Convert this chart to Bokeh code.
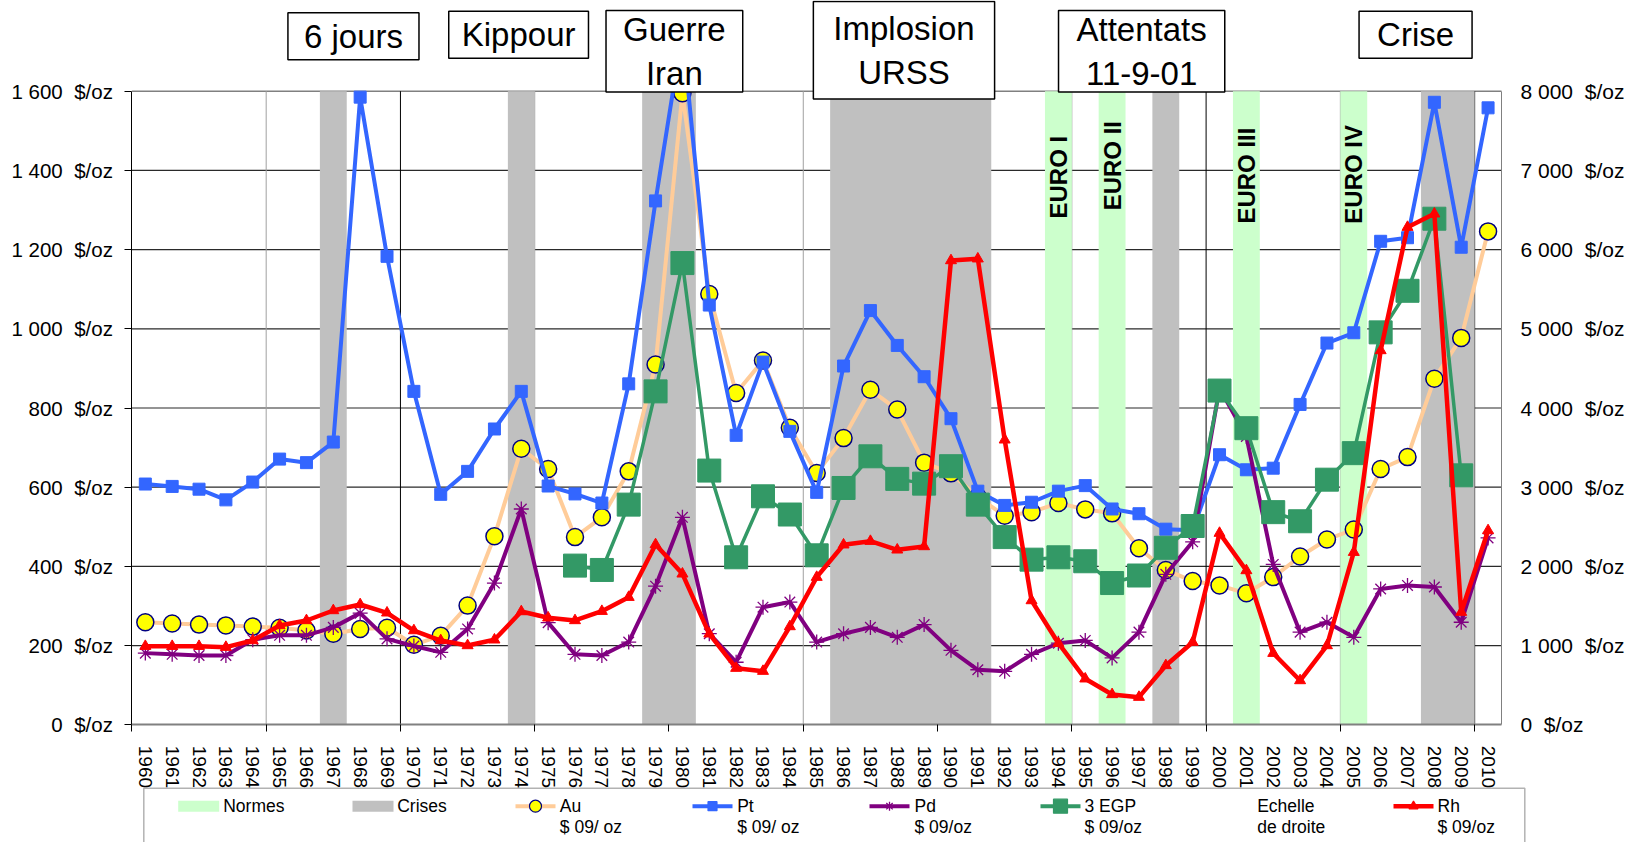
import math
from bokeh.plotting import figure
from bokeh.models import (Range1d, LinearAxis, FixedTicker, Label, BoxAnnotation,
                          ColumnDataSource)
from bokeh.embed import file_html
from bokeh.resources import INLINE

NaN = float("nan")

# ---------------- data ----------------
years = list(range(1960, 2011))

au = [259, 256, 253, 251, 248, 245, 238, 230, 242, 245,
      202, 225, 301, 476, 697, 646, 474, 524, 640, 910,
      1595, 1088, 838, 920, 750, 636, 724, 846, 796, 662,
      635, 575, 528, 537, 560, 544, 534, 446, 391, 363,
      352, 332, 373, 425, 468, 493, 646, 676, 874, 977, 1246]

pt = [608, 602, 595, 568, 613, 671, 662, 714, 1585, 1183,
      842, 582, 640, 747, 842, 603, 583, 560, 861, 1323,
      1750, 1060, 731, 916, 741, 587, 906, 1046, 958, 879,
      773, 590, 554, 562, 590, 604, 545, 533, 494, 491,
      682, 644, 648, 809, 964, 990, 1221, 1230, 1572, 1206, 1558]

pdm = [181, 178, 175, 175, 215, 226, 226, 246, 282, 217,
       199, 183, 242, 358, 545, 258, 178, 175, 209, 350,
       524, 230, 158, 297, 310, 209, 230, 246, 221, 253,
       188, 139, 135, 178, 206, 213, 169, 234, 380, 462,
       850, 728, 405, 234, 259, 221, 343, 352, 348, 259, 472]

egp = [NaN] * 16 + [402, 391, 556, 842,
       1166, 642, 423, 577, 531, 428, 598, 678, 621, 609,
       653, 556, 474, 417, 423, 413, 358, 377, 447, 502,
       844, 749, 537, 514, 619, 686, 991, 1096, 1278, 630, NaN]

rh = [992, 992, 992, 980, 1064, 1254, 1317, 1443, 1519, 1414,
      1190, 1064, 1001, 1073, 1430, 1351, 1317, 1434, 1611, 2276,
      1906, 1149, 715, 677, 1241, 1864, 2273, 2318, 2209, 2251,
      5862, 5884, 3598, 1569, 1030, 581, 383, 349, 749, 1043,
      2420, 1948, 904, 559, 1001, 2179, 4726, 6283, 6452, 1422, 2453]

left_ticks = [0, 200, 400, 600, 800, 1000, 1200, 1400, 1600]
left_labels = ["0\u00a0\u00a0$/oz", "200\u00a0\u00a0$/oz", "400\u00a0\u00a0$/oz", "600\u00a0\u00a0$/oz",
               "800\u00a0\u00a0$/oz", "1 000\u00a0\u00a0$/oz", "1 200\u00a0\u00a0$/oz",
               "1 400\u00a0\u00a0$/oz", "1 600\u00a0\u00a0$/oz"]
right_ticks = [0, 1000, 2000, 3000, 4000, 5000, 6000, 7000, 8000]
right_labels = ["0\u00a0\u00a0$/oz", "1 000\u00a0\u00a0$/oz", "2 000\u00a0\u00a0$/oz", "3 000\u00a0\u00a0$/oz",
                "4 000\u00a0\u00a0$/oz", "5 000\u00a0\u00a0$/oz", "6 000\u00a0\u00a0$/oz",
                "7 000\u00a0\u00a0$/oz", "8 000\u00a0\u00a0$/oz"]

crises_years = [1967, 1974, 1979, 1980, 1986, 1987, 1988, 1989, 1990, 1991, 1998, 2008, 2009]
normes_years = [1994, 1996, 2001, 2005]
normes_labels = ["EURO I", "EURO II", "EURO III", "EURO IV"]

event_labels = ["6 jours", "Kippour", "Guerre\nIran", "Implosion\nURSS", "Attentats\n11-9-01", "Crise"]

legend_names = ["Normes", "Crises", "Au", "Pt", "Pd", "3 EGP", "Echelle", "Rh"]
legend_units = ["", "", "$ 09/ oz", "$ 09/ oz", "$ 09/oz", "$ 09/oz", "de droite", "$ 09/oz"]

# ---------------- layout / style ----------------
FONT = "Liberation Sans"
W, H = 1636, 842                 # the frame covers the whole canvas
X_LO, X_HI = 1959.5, 2010.5      # category extent
X_LO_PX, X_HI_PX = 131.4, 1501.0
Y0_PX, YTOP_PX = 724.3, 90.7
Y_MAX, Y2_MAX = left_ticks[-1], right_ticks[-1]

kx = (X_HI_PX - X_LO_PX) / (X_HI - X_LO)
ky = (Y0_PX - YTOP_PX) / Y_MAX
x_range = Range1d(X_LO - X_LO_PX / kx, X_HI + (W - X_HI_PX) / kx)
y_range = Range1d(-(H - Y0_PX) / ky, Y_MAX + YTOP_PX / ky)
r2 = Y2_MAX / Y_MAX

p = figure(width=W, height=H, min_border=0, x_range=x_range, y_range=y_range,
           output_backend="svg", toolbar_location=None)
p.extra_y_ranges = {"right": Range1d(y_range.start * r2, y_range.end * r2),
                    "px": Range1d(H, 0)}
p.extra_x_ranges = {"px": Range1d(0, W)}
p.outline_line_color = None
p.background_fill_color = "white"
p.border_fill_color = "white"
p.grid.visible = False

# gridlines (drawn as segments so that they stop at the plot area)
hy = left_ticks[1:-1]
p.segment(x0=X_LO, x1=X_HI, y0=hy, y1=hy, line_color="#2a2a2a", line_width=1.2)
p.segment(x0=X_LO, x1=X_HI, y0=[Y_MAX], y1=[Y_MAX], line_color="#808080", line_width=1.5)
bounds_all = [X_LO + 5 * k for k in range(1, 11)]
dark_bounds = [b for b in bounds_all if b in (1969.5, 1999.5, 2009.5)]
light_bounds = [b for b in bounds_all if b not in dark_bounds]
p.segment(x0=light_bounds, x1=light_bounds, y0=0, y1=Y_MAX, line_color="#a0a0a0", line_width=1)
p.segment(x0=dark_bounds, x1=dark_bounds, y0=0, y1=Y_MAX, line_color="black", line_width=1)

# x axis
xa = p.xaxis[0]
xa.fixed_location = 0
xa.bounds = (X_LO, X_HI)
xa.ticker = FixedTicker(ticks=years, minor_ticks=[X_LO + 5 * k for k in range(11)])
xa.major_label_overrides = {y: str(y) for y in years}
xa.major_label_orientation = "vertical"
xa.major_tick_line_color = None
xa.major_tick_out = 0
xa.major_tick_in = 0
xa.minor_tick_line_color = "black"
xa.minor_tick_out = 7
xa.minor_tick_in = 0
xa.major_label_standoff = 14
xa.axis_line_color = "#808080"
xa.axis_line_width = 2
xa.major_label_text_font = FONT
xa.major_label_text_font_size = "19px"
xa.major_label_text_color = "black"

# left axis
ya = p.yaxis[0]
ya.fixed_location = X_LO
ya.bounds = (0, Y_MAX)
ya.ticker = FixedTicker(ticks=left_ticks)
ya.major_label_overrides = {t: l for t, l in zip(left_ticks, left_labels)}
ya.minor_tick_line_color = None
ya.major_tick_out = 7
ya.major_tick_in = 0
ya.major_tick_line_color = "black"
ya.axis_line_color = "black"
ya.major_label_standoff = 12
ya.major_label_text_font = FONT
ya.major_label_text_font_size = "20.5px"
ya.major_label_text_color = "black"

# right axis
ra = LinearAxis(y_range_name="right", ticker=FixedTicker(ticks=right_ticks),
                bounds=(0, Y2_MAX), fixed_location=X_HI)
ra.major_label_overrides = {t: l for t, l in zip(right_ticks, right_labels)}
ra.minor_tick_line_color = None
ra.major_tick_out = 0
ra.major_tick_in = 0
ra.axis_line_color = "#808080"
ra.major_label_standoff = 19
ra.major_label_text_font = FONT
ra.major_label_text_font_size = "21px"
ra.major_label_text_color = "black"
p.add_layout(ra, "right")


def spans(ys):
    out = []
    for y in sorted(ys):
        if out and y == out[-1][1] + 1:
            out[-1][1] = y
        else:
            out.append([y, y])
    return [a - 0.5 for a, b in out], [b + 0.5 for a, b in out]


cl, cr = spans(crises_years)
nl, nr = spans(normes_years)
p.quad(left=cl, right=cr, bottom=0, top=Y_MAX, fill_color="#C0C0C0", line_color=None)
p.quad(left=nl, right=nr, bottom=0, top=Y_MAX, fill_color="#CCFFCC", line_color=None)

src = ColumnDataSource(dict(x=years, au=au, pt=pt, pd=pdm, egp=egp, rh=rh))

p.line("x", "au", source=src, line_color="#FFCC99", line_width=4)
p.scatter("x", "au", source=src, marker="circle", size=17,
          fill_color="#FFFF00", line_color="#000080", line_width=1.5)
p.line("x", "pt", source=src, line_color="#3366FF", line_width=4)
p.scatter("x", "pt", source=src, marker="square", size=12,
          fill_color="#3366FF", line_color="#3366FF")
p.line("x", "pd", source=src, line_color="#800080", line_width=4)
p.scatter("x", "pd", source=src, marker="asterisk", size=15,
          line_color="#800080", line_width=1.3)
p.line("x", "egp", source=src, line_color="#339966", line_width=3.5)
p.scatter("x", "egp", source=src, marker="square", size=23,
          fill_color="#339966", line_color="#339966")
p.line("x", "rh", source=src, line_color="#FF0000", line_width=4.5, y_range_name="right")
p.scatter("x", "rh", source=src, marker="triangle", size=11,
          fill_color="#FF0000", line_color="#FF0000", y_range_name="right")

# EURO labels
euro_y = [1383, 1412, 1387, 1390]
for yr, txt, yy in zip(normes_years, normes_labels, euro_y):
    p.add_layout(Label(x=yr, y=yy, text=txt, angle=math.pi / 2,
                       text_align="center", text_baseline="middle",
                       text_font=FONT, text_font_size="24px", text_font_style="bold",
                       text_color="black"))

# event boxes
ev_x = [1967.75, 1973.9, 1979.7, 1988.25, 1997.1, 2007.3]
ev_y = [35.8, 34.3, 50.7, 49.7, 50.7, 34.3]
ev_pad = [(16, 5), (13, 5), (17, 0), (20, 8), (18, 0), (18, 5)]
for txt, xx, yy, (ph, pv) in zip(event_labels, ev_x, ev_y, ev_pad):
    p.add_layout(Label(x=xx, y=yy, x_units="data", y_units="canvas", text=txt,
                       text_align="center", text_baseline="middle",
                       text_font=FONT, text_font_size="33px", text_color="black",
                       border_line_color="black", border_line_width=1.5,
                       background_fill_color="white",
                       padding=dict(left=ph, right=ph, top=pv, bottom=pv)))

# ---------------- legend (pixel coordinates) ----------------
row1, row2 = 805.7, 826.7
gx = [177.7, 352.0, 515.0, 692.0, 869.0, 1040.0, None, 1393.0]
tx = [222.7, 396.7, 559.3, 736.7, 914.0, 1084.0, 1256.7, 1437.0]

p.quad(left=[gx[0]], right=[gx[0] + 41], top=[row1 - 5.5], bottom=[row1 + 5.5],
       fill_color="#CCFFCC", line_color=None, x_range_name="px", y_range_name="px")
p.quad(left=[gx[1]], right=[gx[1] + 41], top=[row1 - 5.5], bottom=[row1 + 5.5],
       fill_color="#C0C0C0", line_color=None, x_range_name="px", y_range_name="px")
styles = [("#FFCC99", "circle", 12, "#FFFF00", "#000080", 4),
          ("#3366FF", "square", 9, "#3366FF", "#3366FF", 4),
          ("#800080", "asterisk", 9, None, "#800080", 4),
          ("#339966", "square", 14, "#339966", "#339966", 4),
          ("#FF0000", "triangle", 9, "#FF0000", "#FF0000", 4.5)]
for x0, (lc, mk, sz, fc, mc, lw) in zip([gx[2], gx[3], gx[4], gx[5], gx[7]], styles):
    p.line(x=[x0, x0 + 40], y=[row1, row1], line_color=lc, line_width=lw,
           x_range_name="px", y_range_name="px")
    if fc is None:
        p.scatter(x=[x0 + 20], y=[row1], marker=mk, size=sz, line_color=mc, line_width=1.3,
                  x_range_name="px", y_range_name="px")
    else:
        p.scatter(x=[x0 + 20], y=[row1], marker=mk, size=sz, fill_color=fc,
                  line_color=mc, line_width=1.2, x_range_name="px", y_range_name="px")

for x, n, u in zip(tx, legend_names, legend_units):
    p.add_layout(Label(x=x, y=row1, x_units="canvas", y_units="canvas", text=n,
                       text_align="left", text_baseline="middle",
                       text_font=FONT, text_font_size="17.5px", text_color="black"))
    if u:
        p.add_layout(Label(x=x, y=row2, x_units="canvas", y_units="canvas", text=u,
                           text_align="left", text_baseline="middle",
                           text_font=FONT, text_font_size="17.5px", text_color="black"))

p.add_layout(BoxAnnotation(left=143.3, right=1524.3, top=787.7, bottom=H + 20,
                           left_units="canvas", right_units="canvas",
                           top_units="canvas", bottom_units="canvas",
                           fill_alpha=0, line_color="black", line_width=1.5))

open("out.html", "w").write(file_html(p, INLINE))
